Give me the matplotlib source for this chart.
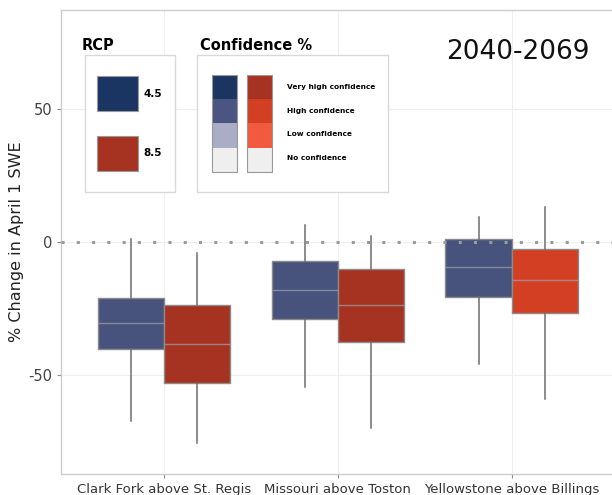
import numpy as np
import matplotlib
matplotlib.use("Agg")
import matplotlib.pyplot as plt
from matplotlib.patches import Rectangle

# data
rivers = ["Clark Fork above St. Regis", "Missouri above Toston", "Yellowstone above Billings"]
# whisker low, q1, median, q3, whisker high
rcp45 = [[-67.4, -40.5, -30.7, -21.3, 1.0],
         [-54.6, -29.1, -18.1, -7.2, 6.4],
         [-46.0, -20.6, -9.3, 1.0, 9.6]]
rcp85 = [[-75.7, -53.3, -38.5, -23.8, -4.3],
         [-70.3, -37.9, -23.9, -10.3, 2.4],
         [-59.4, -26.9, -14.3, -2.6, 13.1]]
col45 = ["#47537c", "#47537c", "#47537c"]
col85 = ["#a63321", "#a63321", "#d33f22"]

conf_labels = ["Very high confidence", "High confidence", "Low confidence", "No confidence"]
conf_blue = ["#1b3563", "#4a5581", "#a9adc6", "#efefef"]
conf_red = ["#a63321", "#d33f22", "#f25a3f", "#efefef"]

W, H = 612, 495
fig = plt.figure(figsize=(W/100, H/100), dpi=100)
ax = fig.add_axes([61/W, (H-474)/H, (616-61)/W, (474-10)/H])

def stats(v):
    return dict(whislo=v[0], q1=v[1], med=v[2], q3=v[3], whishi=v[4], fliers=[])

for i in range(3):
    for vals, off, c in [(rcp45[i], -0.19, col45[i]), (rcp85[i], 0.19, col85[i])]:
        ax.bxp([stats(vals)], positions=[i+1+off], widths=0.38, showcaps=False,
               patch_artist=True,
               boxprops=dict(facecolor=c, edgecolor="#8a8a8a", linewidth=1),
               whiskerprops=dict(color="#6e6e6e", linewidth=1.1),
               medianprops=dict(color="#a0a0ae", linewidth=1, alpha=0.7),
               zorder=3)

ax.axhline(0, color="#9a9a9a", linestyle=(0, (1, 4)), linewidth=2.2, zorder=4)

ax.set_xlim(0.41, 3.6)
ax.set_ylim(-87.5, 87.5)
ax.set_xticks([1, 2, 3])
ax.set_xticklabels(rivers, fontsize=9.5, color="#333333")
ax.set_yticks([-50, 0, 50])
ax.set_yticklabels(["-50", "0", "50"], fontsize=10.5, color="#444444")
ax.tick_params(length=3, color="#888888", width=0.8)
ax.set_ylabel("% Change in April 1 SWE", fontsize=11.5, color="#222222", labelpad=3)
ax.grid(True, color="#eeeeee", linewidth=0.8, zorder=0)
ax.set_axisbelow(True)
for s in ax.spines.values():
    s.set_color("#cccccc")
    s.set_linewidth(1)

# legends drawn in figure pixels
def px(x, y):
    return x/W, 1 - y/H

def rect(x0, y0, x1, y1, fc, ec="none", lw=0.8):
    fig.patches.append(Rectangle(px(x0, y1), (x1-x0)/W, (y1-y0)/H, facecolor=fc,
                                 edgecolor=ec, linewidth=lw, transform=fig.transFigure))

rect(85, 55, 175, 192, "white", "#d8d8d8", 1)
fig.text(*px(82, 45), "RCP", fontsize=10.5, fontweight="bold", va="center")
rect(97, 76, 138, 111, "#1b3563", "#999999")
rect(97, 136, 138, 171, "#a63321", "#999999")
fig.text(*px(143, 94), "4.5", fontsize=7.5, fontweight="bold", va="center")
fig.text(*px(143, 153), "8.5", fontsize=7.5, fontweight="bold", va="center")

rect(197, 55, 388, 192, "white", "#d8d8d8", 1)
fig.text(*px(200, 45), "Confidence %", fontsize=10.5, fontweight="bold", va="center")
seg = 24.25
for k in range(4):
    y0 = 75 + k*seg
    rect(212, y0, 237, y0+seg, conf_blue[k])
    rect(247, y0, 272, y0+seg, conf_red[k])
    fig.text(*px(287, 87 + k*23.7), conf_labels[k], fontsize=5.3, fontweight="bold", va="center")
rect(212, 75, 237, 172, "none", "#999999")
rect(247, 75, 272, 172, "none", "#999999")

fig.text(*px(518, 52), "2040-2069", fontsize=19, ha="center", va="center", color="#111111")

fig.savefig("out.png", dpi=100)
